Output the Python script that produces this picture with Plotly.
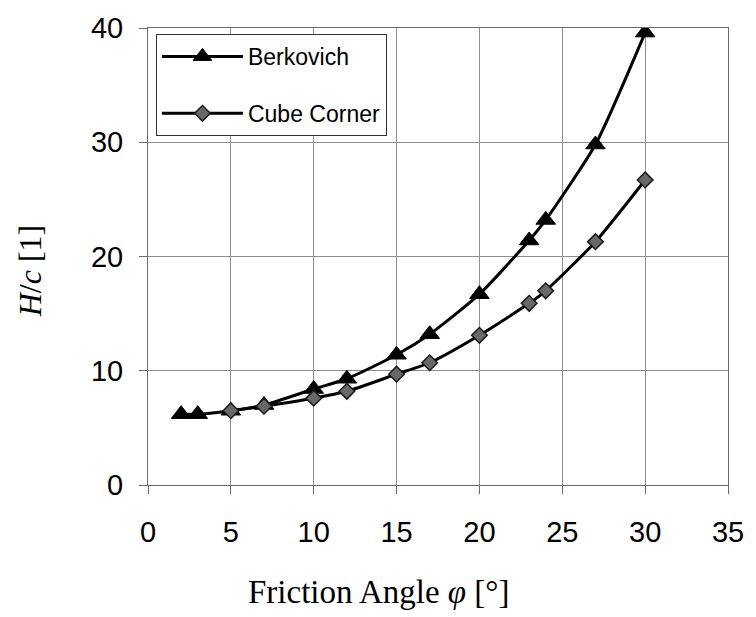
import plotly.graph_objects as go

# Hardness-to-cohesion ratio vs. friction angle for two indenter geometries
berk_phi = [2, 3, 5, 7, 10, 12, 15, 17, 20, 23, 24, 27, 30]
berk_hc = [6.2, 6.2, 6.5, 7.0, 8.4, 9.3, 11.4, 13.2, 16.7, 21.4, 23.2, 29.8, 39.6]

cube_phi = [5, 7, 10, 12, 15, 17, 20, 23, 24, 27, 30]
cube_hc = [6.5, 6.9, 7.6, 8.2, 9.7, 10.7, 13.1, 15.9, 17.0, 21.3, 26.7]

x_ticks = [0, 5, 10, 15, 20, 25, 30, 35]
y_ticks = [0, 10, 20, 30, 40]

sans = "Liberation Sans, Arial, sans-serif"
serif = "Liberation Serif, Times New Roman, serif"

fig = go.Figure()
fig.add_trace(go.Scatter(
    x=berk_phi, y=berk_hc, name="Berkovich", mode="lines+markers",
    line=dict(color="black", width=3, shape="spline", smoothing=0.6),
    marker=dict(symbol="triangle-up", size=17, color="black",
                line=dict(color="black", width=1)),
    legendgroup="a",
))
fig.add_trace(go.Scatter(
    x=cube_phi, y=cube_hc, name="Cube Corner", mode="lines+markers",
    line=dict(color="black", width=3, shape="spline", smoothing=0.6),
    marker=dict(symbol="diamond", size=12, color="#686868",
                line=dict(color="#1a1a1a", width=1.5)),
    legendgroup="b",
))

axis_common = dict(
    showgrid=True, gridcolor="#8e8e8e", gridwidth=1,
    showline=True, linecolor="#6a6a6a", linewidth=1, mirror=True,
    ticks="outside", ticklen=8, tickcolor="#6a6a6a", tickwidth=1,
    zeroline=False,
    tickfont=dict(family=sans, size=29, color="black"),
)

fig.update_layout(
    width=756, height=617,
    margin=dict(l=148, r=23, t=21, b=132),
    paper_bgcolor="white", plot_bgcolor="white",
    xaxis=dict(range=[0, 35], tickvals=x_ticks, ticklabelstandoff=13, **axis_common),
    yaxis=dict(range=[0, 40], tickvals=y_ticks, ticklabelstandoff=10, **axis_common),
    legend=dict(
        x=0.0137, y=0.987, xanchor="left", yanchor="top",
        bgcolor="white", bordercolor="#333333", borderwidth=1,
        font=dict(family=sans, size=23, color="black"),
        itemwidth=81, traceorder="grouped", tracegroupgap=24,
    ),
    annotations=[
        dict(text="Friction Angle <i>φ</i> [°]", xref="paper", yref="paper",
             x=(381 - 148) / 585, y=-(594 - 485) / 464, xanchor="center", yanchor="middle",
             showarrow=False, font=dict(family=serif, size=33, color="black")),
        dict(text="<i>H</i>/<i>c</i> [1]", xref="paper", yref="paper",
             x=-(148 - 29) / 585, y=(485 - 268) / 464, xanchor="center", yanchor="middle",
             textangle=-90, showarrow=False,
             font=dict(family=serif, size=32, color="black")),
    ],
)

fig.write_html("out.html")
